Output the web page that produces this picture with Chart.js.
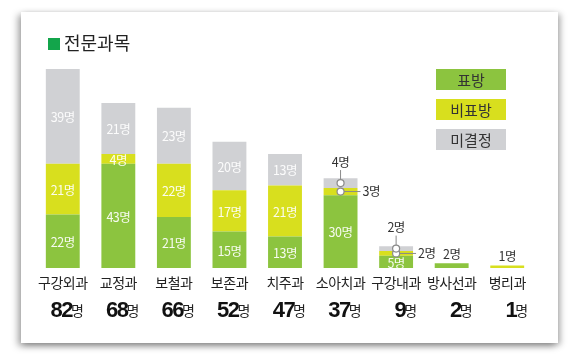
<!DOCTYPE html>
<html lang="ko">
<head>
<meta charset="utf-8">
<script src="https://cdn.jsdelivr.net/npm/chart.js@4/dist/chart.umd.min.js"></script>
<style>
  html, body { margin: 0; padding: 0; background: #fff; }
  body { width: 580px; height: 358px; position: relative; overflow: hidden; }
  .card {
    position: absolute; left: 21px; top: 12px; width: 537px; height: 331px;
    background: #fff;
    box-shadow: -3px 3px 7px rgba(0,0,0,0.35), 3px 2px 6px rgba(0,0,0,0.25);
  }
  #chart { position: absolute; left: 0; top: 0; }
</style>
</head>
<body>
<div class="card"></div>
<canvas id="chart" width="580" height="358"></canvas>
<script>
const categories = ["구강외과", "교정과", "보철과", "보존과", "치주과", "소아치과", "구강내과", "방사선과", "병리과"];
const pyobang   = [22, 43, 21, 15, 13, 30, 5, 2, 0];   // 표방
const bipyobang = [21, 4, 22, 17, 21, 3, 2, 0, 1];     // 비표방
const migyeol   = [39, 21, 23, 20, 13, 4, 2, 0, 0];    // 미결정
const seriesNames = ["표방", "비표방", "미결정"];

const COLORS = ["#8cc43f", "#d8df1e", "#d0d1d4"];
const KR = '"Noto Sans CJK KR", sans-serif';
const NUM = '"Liberation Sans", "Noto Sans CJK KR", sans-serif';

const totals = categories.map((_, i) => pyobang[i] + bipyobang[i] + migyeol[i]);

function dot(ctx, x, y) {
  ctx.beginPath();
  ctx.arc(x, y, 3.5, 0, Math.PI * 2);
  ctx.fillStyle = "#fff";
  ctx.fill();
  ctx.lineWidth = 1.2;
  ctx.strokeStyle = "#8a8a8a";
  ctx.stroke();
}

const decorations = {
  id: "decorations",
  afterDatasetsDraw(chart) {
    const ctx = chart.ctx;
    const xs = chart.scales.x;
    const area = chart.chartArea;
    ctx.save();

    // title
    ctx.fillStyle = "#13a54b";
    ctx.fillRect(48, 38, 12, 12);
    ctx.fillStyle = "#222";
    ctx.font = `18px ${KR}`;
    ctx.textBaseline = "middle";
    ctx.textAlign = "left";
    ctx.fillText("전문과목", 64, 43);

    // legend
    seriesNames.forEach((name, k) => {
      const y = 69 + k * 30;
      ctx.fillStyle = COLORS[k];
      ctx.fillRect(436, y, 70, 21);
      ctx.fillStyle = "#333";
      ctx.font = `15px ${KR}`;
      ctx.textAlign = "center";
      ctx.fillText(name, 471, y + 11);
    });

    // value labels
    chart.data.datasets.forEach((ds, d) => {
      const meta = chart.getDatasetMeta(d);
      meta.data.forEach((bar, i) => {
        const v = ds.data[i];
        if (!v) return;
        const t = totals[i];
        const top = Math.min(bar.y, bar.base), bottom = Math.max(bar.y, bar.base);
        const cy = (top + bottom) / 2;
        ctx.font = `12.5px ${KR}`;
        ctx.letterSpacing = "-0.5px";
        ctx.textBaseline = "middle";
        if (t <= 2) {
          ctx.fillStyle = "#333";
          ctx.textAlign = "center";
          ctx.fillText(v + "명", bar.x, top - 9);
        } else if (v >= 5 || t >= 40) {
          ctx.fillStyle = "rgba(255,255,255,0.92)";
          ctx.textAlign = "center";
          ctx.fillText(v + "명", bar.x, cy + 1);
        } else if (d === 2) {
          ctx.strokeStyle = "#8a8a8a";
          ctx.lineWidth = 1;
          ctx.beginPath();
          ctx.moveTo(bar.x, cy);
          ctx.lineTo(bar.x, cy - 13);
          ctx.stroke();
          dot(ctx, bar.x, cy);
          ctx.fillStyle = "#333";
          ctx.textAlign = "center";
          ctx.fillText(v + "명", bar.x, cy - 21);
        } else {
          const right = bar.x + bar.width / 2;
          ctx.strokeStyle = "#8a8a8a";
          ctx.lineWidth = 1;
          ctx.beginPath();
          ctx.moveTo(bar.x, cy);
          ctx.lineTo(right + 3, cy);
          ctx.stroke();
          dot(ctx, bar.x, cy);
          ctx.fillStyle = "#333";
          ctx.textAlign = "left";
          ctx.fillText(v + "명", right + 5, cy);
        }
        ctx.letterSpacing = "0px";
      });
    });

    // category names and totals
    categories.forEach((c, i) => {
      const x = xs.getPixelForValue(i);
      ctx.fillStyle = "#222";
      ctx.font = `14px ${KR}`;
      ctx.letterSpacing = "-0.5px";
      ctx.textAlign = "center";
      ctx.textBaseline = "middle";
      ctx.fillText(c, x, area.bottom + 15);
      ctx.letterSpacing = "0px";

      const num = String(totals[i]);
      ctx.textBaseline = "alphabetic";
      ctx.font = `14px ${KR}`;
      const wUnit = ctx.measureText("명").width;
      const right = x + 21;
      ctx.textAlign = "right";
      ctx.fillText("명", right, area.bottom + 48);
      ctx.font = `bold 22px ${NUM}`;
      ctx.letterSpacing = "-1.5px";
      ctx.fillStyle = "#111";
      ctx.fillText(num, right - wUnit + 1, area.bottom + 49);
      ctx.letterSpacing = "0px";
    });

    ctx.restore();
  }
};

new Chart(document.getElementById("chart"), {
  type: "bar",
  data: {
    labels: categories,
    datasets: [
      { label: seriesNames[0], data: pyobang, backgroundColor: COLORS[0] },
      { label: seriesNames[1], data: bipyobang, backgroundColor: COLORS[1] },
      { label: seriesNames[2], data: migyeol, backgroundColor: COLORS[2] },
    ]
  },
  options: {
    responsive: false,
    animation: false,
    barPercentage: 0.61,
    categoryPercentage: 1,
    layout: { padding: { left: 35, right: 45, top: 69, bottom: 90 } },
    scales: {
      x: { stacked: true, display: false },
      y: { stacked: true, display: false, min: 0, max: 82 }
    },
    plugins: {
      legend: { display: false },
      tooltip: { enabled: false }
    }
  },
  plugins: [decorations]
});
</script>
</body>
</html>
